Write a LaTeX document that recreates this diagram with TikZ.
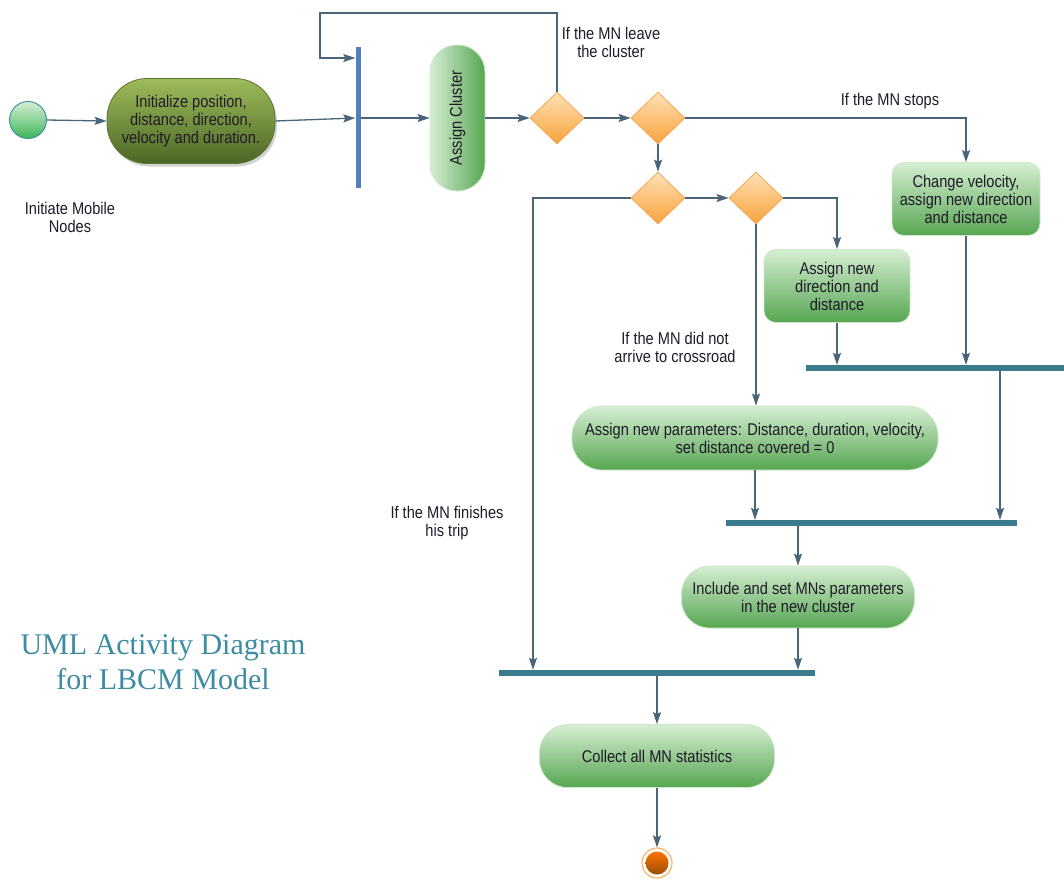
\documentclass[tikz,border=0pt]{standalone}
\usepackage{fontspec}
\setmainfont{Liberation Sans}[FakeStretch=0.86]
\newfontfamily\titlefont{Liberation Serif}
\usetikzlibrary{arrows.meta,shapes.geometric,shadows}

\definecolor{lineC}{HTML}{4A6478}
\definecolor{txtC}{HTML}{1E1A28}
\definecolor{grTop}{HTML}{D6EED3}
\definecolor{grBot}{HTML}{56A651}
\definecolor{grEdge}{HTML}{CDE8C9}
\definecolor{olTop}{HTML}{9DBC5A}
\definecolor{olBot}{HTML}{4C6626}
\definecolor{olEdge}{HTML}{5E7532}
\definecolor{orTop}{HTML}{FDE1B6}
\definecolor{orBot}{HTML}{F8A33C}
\definecolor{orEdge}{HTML}{F3A64E}
\definecolor{forkC}{HTML}{4F7FBE}
\definecolor{joinC}{HTML}{3A7C8E}
\definecolor{titleC}{HTML}{3C8CA3}
\definecolor{startBot}{HTML}{3CB55A}

\begin{document}
\begin{tikzpicture}[x=1pt,y=-1pt,
  every node/.style={font=\fontsize{17}{18}\selectfont, text=txtC},
  flow/.style={draw=lineC, line width=1.3pt,
    -{Stealth[length=12pt,width=8pt,inset=2pt]}},
  act/.style={draw=grEdge, line width=0.8pt, top color=grTop, bottom color=grBot,
    align=center, inner sep=0pt},
  decision/.style={diamond, draw=orEdge, line width=0.8pt, top color=orTop,
    bottom color=orBot, inner sep=0pt, minimum width=54pt, minimum height=52pt},
  joinbar/.style={fill=joinC, inner sep=0pt, minimum height=6pt},
  note/.style={align=center, inner sep=0pt}]

\useasboundingbox (0,0) rectangle (1064,879);

% start and initialisation
\node[circle, draw=titleC, line width=0.9pt, top color=grTop, bottom color=startBot,
      minimum size=37pt, inner sep=0pt] (start) at (28,120) {};
\node[note] (startlbl) at (70,217) {Initiate Mobile\\Nodes};
\node[draw=olEdge, line width=0.8pt, top color=olTop, bottom color=olBot,
      rounded corners=40pt, minimum width=168pt, minimum height=85pt,
      align=center, inner sep=0pt,
      drop shadow={opacity=0.35, shadow xshift=2pt, shadow yshift=-3pt}] (init) at (191,121)
      {Initialize position,\\distance, direction,\\velocity and duration.};

% fork bar and cluster assignment
\node[fill=forkC, inner sep=0pt, minimum width=5pt, minimum height=141pt] (fork) at (358,117.5) {};
\node[draw=grEdge, line width=0.8pt, left color=grTop, right color=grBot,
      rounded corners=27pt, minimum width=55pt, minimum height=146pt, inner sep=0pt]
      (ac) at (457.5,118) {\rotatebox{90}{Assign Cluster}};

% decisions
\node[decision] (d1) at (557,118) {};
\node[decision] (d2) at (658,118) {};
\node[decision] (d3) at (658,198) {};
\node[decision] (d4) at (756,198) {};

% actions
\node[act, rounded corners=12pt, minimum width=148pt, minimum height=73pt] (cv) at (966,199)
      {Change velocity,\\assign new direction\\and distance};
\node[act, rounded corners=12pt, minimum width=146pt, minimum height=73pt] (and) at (837,286)
      {Assign new\\direction and\\distance};
\node[act, rounded corners=30pt, minimum width=366pt, minimum height=64pt] (anp) at (755,438)
      {Assign new parameters: Distance, duration, velocity,\\set distance covered = 0};
\node[act, rounded corners=28pt, minimum width=233pt, minimum height=62pt] (inc) at (798,597)
      {Include and set MNs parameters\\in the new cluster};
\node[act, rounded corners=28pt, minimum width=235pt, minimum height=63pt] (col) at (657,756)
      {Collect all MN statistics};

% join bars
\node[joinbar, minimum width=258pt] (bar1) at (935,368) {};
\node[joinbar, minimum width=291pt] (bar2) at (871.5,523) {};
\node[joinbar, minimum width=316pt] (bar3) at (657,673) {};

% final node
\node[circle, draw=orange!60, line width=1.2pt, minimum size=30pt, inner sep=0pt] (fin) at (657,863) {};
\node[circle, top color=orange!90!red, bottom color=orange!60!black, minimum size=23pt,
      inner sep=0pt] (finin) at (fin.center) {};

% guard labels
\node[note] (g1) at (611,42) {If the MN leave\\the cluster};
\node[note] (g2) at (890,101) {If the MN stops};
\node[note] (g3) at (675,347) {If the MN did not\\arrive to crossroad};
\node[note] (g4) at (447,523) {If the MN finishes\\his trip};

% title
\node[align=center, inner sep=0pt, text=titleC,
      font=\titlefont\fontsize{30}{35}\selectfont] (title) at (163,662)
      {UML Activity Diagram\\for LBCM Model};

% helper coordinates
\coordinate (loopx) at (320,13);
\coordinate (loopin) at (0,58);
\coordinate (leftx) at (533,0);
\coordinate (rightx) at (1000,0);

% connectors
\draw[flow] (start.east) -- (init.west);
\draw[flow] (init.east) -- (fork.west |- ac.west);
\draw[flow] (fork.east |- ac.west) -- (ac.west);
\draw[flow] (ac.east) -- (d1.west);
\draw[flow] (d1.north) |- (loopx) |- (fork.west |- loopin);
\draw[flow] (d1.east) -- (d2.west);
\draw[flow] (d2.east) -| (cv.north);
\draw[flow] (d2.south) -- (d3.north);
\draw[flow] (d3.east) -- (d4.west);
\draw[flow] (d3.west) -| (leftx |- bar3.north);
\draw[flow] (d4.east) -| (and.north);
\draw[flow] (d4.south) -- (d4.south |- anp.north);
\draw[flow] (and.south) -- (and.south |- bar1.north);
\draw[flow] (cv.south) -- (cv.south |- bar1.north);
\draw[flow] (rightx |- bar1.south) -- (rightx |- bar2.north);
\draw[flow] (anp.south) -- (anp.south |- bar2.north);
\draw[flow] (inc.north |- bar2.south) -- (inc.north);
\draw[flow] (inc.south) -- (inc.south |- bar3.north);
\draw[flow] (col.north |- bar3.south) -- (col.north);
\draw[flow] (col.south) -- (fin.north);
\end{tikzpicture}
\end{document}
